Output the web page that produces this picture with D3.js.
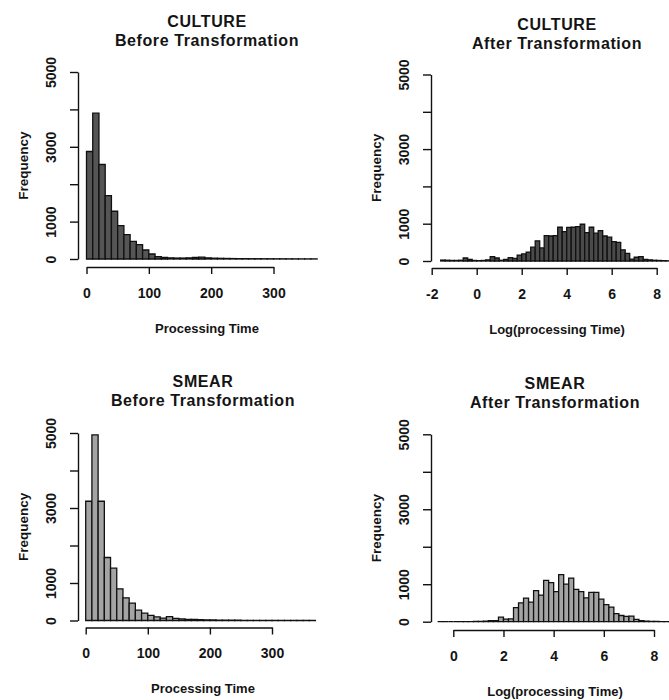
<!DOCTYPE html>
<html>
<head>
<meta charset="utf-8">
<script src="https://cdn.jsdelivr.net/npm/d3@7"></script>
<style>
  html, body { margin: 0; padding: 0; background: #ffffff; }
  svg { display: block; }
  text { font-family: "Liberation Sans", Arial, Helvetica, sans-serif; font-weight: bold; fill: #141414; }
</style>
</head>
<body>
<svg id="chart" width="669" height="700"></svg>
<script>
// Histogram counts (frequency per bin)
const cultureBeforeStart = 0;
const cultureBeforeWidth = 10;
const cultureBeforeCounts = [2875, 3900, 2527, 1696, 1277, 893, 652, 473, 384, 241, 134, 62, 40, 30, 25, 25, 30, 40, 50, 30, 22, 18, 15, 12, 10, 10, 8, 8, 6, 6, 5, 5, 4, 4, 3, 3, 3];

const cultureAfterStart = -1.6;
const cultureAfterWidth = 0.2;
const cultureAfterCounts = [25, 20, 15, 15, 20, 80, 40, 15, 10, 15, 30, 115, 80, 20, 45, 90, 70, 160, 190, 240, 370, 540, 350, 680, 670, 680, 905, 790, 900, 905, 920, 985, 760, 905, 745, 815, 670, 640, 520, 500, 300, 205, 50, 100, 115, 45, 30, 20, 15, 10, 5];

const smearBeforeStart = 0;
const smearBeforeWidth = 10;
const smearBeforeCounts = [3180, 4950, 3180, 1680, 1395, 845, 605, 465, 275, 195, 138, 98, 65, 105, 55, 42, 32, 28, 22, 18, 15, 12, 10, 8, 8, 6, 6, 5, 5, 4, 4, 3, 3, 3, 2, 2, 2];

const smearAfterStart = -0.6;
const smearAfterWidth = 0.2;
const smearAfterCounts = [2, 0, 0, 0, 2, 2, 3, 5, 8, 15, 25, 30, 120, 70, 75, 375, 500, 630, 520, 830, 710, 1100, 1040, 800, 1255, 1000, 1165, 865, 800, 635, 785, 785, 600, 455, 390, 215, 165, 140, 150, 60, 30, 15, 10, 5, 3, 2, 1];

// Axis ticks and the labels printed beside them
const yTicks = [0, 1000, 2000, 3000, 4000, 5000];
const yTickLabels = ["0", "1000", "3000", "5000"];
const xTicksBefore = [0, 100, 200, 300];
const xTicksCultureAfter = [-2, 0, 2, 4, 6, 8];
const xTicksSmearAfter = [0, 2, 4, 6, 8];

const titles = [["CULTURE", "Before Transformation"], ["CULTURE", "After Transformation"],
                ["SMEAR", "Before Transformation"], ["SMEAR", "After Transformation"]];
const xLabels = ["Processing Time", "Log(processing Time)", "Processing Time", "Log(processing Time)"];
const yLabel = "Frequency";

// Panel layout in pixels
const panels = [
  { start: cultureBeforeStart, width: cultureBeforeWidth, counts: cultureBeforeCounts, xTicks: xTicksBefore,
    title: titles[0], xLabel: xLabels[0], fill: "#555555",
    yAxisX: 78, y0: 259, y5000: 72, xA: [0, 86.5], xB: [300, 273.5], xAxisY: 267, titleX: 207, titleY: 21, clipRight: 318 },
  { start: cultureAfterStart, width: cultureAfterWidth, counts: cultureAfterCounts, xTicks: xTicksCultureAfter,
    title: titles[1], xLabel: xLabels[1], fill: "#4a4a4a",
    yAxisX: 431, y0: 261, y5000: 74.5, xA: [-2, 431.7], xB: [8, 656.7], xAxisY: 268, titleX: 557, titleY: 24, clipRight: 669 },
  { start: smearBeforeStart, width: smearBeforeWidth, counts: smearBeforeCounts, xTicks: xTicksBefore,
    title: titles[2], xLabel: xLabels[2], fill: "#a4a4a4",
    yAxisX: 78, y0: 620.5, y5000: 433, xA: [0, 85.7], xB: [300, 272], xAxisY: 627.5, titleX: 203, titleY: 381, clipRight: 317 },
  { start: smearAfterStart, width: smearAfterWidth, counts: smearAfterCounts, xTicks: xTicksSmearAfter,
    title: titles[3], xLabel: xLabels[3], fill: "#a4a4a4",
    yAxisX: 431, y0: 621.7, y5000: 434.3, xA: [0, 453.3], xB: [8, 654], xAxisY: 630, titleX: 555, titleY: 383, clipRight: 669 }
];

const svg = d3.select("#chart");
const defs = svg.append("defs");

panels.forEach((p, i) => {
  const x = d3.scaleLinear().domain([p.xA[0], p.xB[0]]).range([p.xA[1], p.xB[1]]);
  const y = d3.scaleLinear().domain([0, 5000]).range([p.y0, p.y5000]);
  const g = svg.append("g");

  // clip region for the bars
  defs.append("clipPath").attr("id", "clip" + i)
    .append("rect")
    .attr("x", p.yAxisX + 4).attr("y", p.y5000 - 20)
    .attr("width", p.clipRight - p.yAxisX - 4).attr("height", p.y0 - p.y5000 + 24);

  // bins built from start + width
  const bins = p.counts.map((c, k) => ({ x0: p.start + k * p.width, x1: p.start + (k + 1) * p.width, n: c }));

  g.append("g").attr("clip-path", `url(#clip${i})`)
    .selectAll("path").data(bins).join("path")
    .attr("d", b => {
      const xl = x(b.x0), xr = x(b.x1), yb = y(0), yt = y(b.n);
      return `M${xl},${yb}V${yt}H${xr}V${yb}Z`;
    })
    .attr("fill", p.fill)
    .attr("stroke", "#111")
    .attr("stroke-width", 1.3)
    .attr("stroke-linejoin", "miter");

  // y axis
  const yAxis = d3.axisLeft(y).tickValues(yTicks).tickSize(8).tickSizeOuter(0)
    .tickFormat(d => yTickLabels.includes(String(d)) ? String(d) : "");
  const ya = g.append("g").attr("transform", `translate(${p.yAxisX},0)`).call(yAxis);
  ya.attr("font-family", null).attr("font-size", null);
  ya.select(".domain").attr("stroke", "#111").attr("stroke-width", 1.4);
  ya.selectAll(".tick line").attr("stroke", "#111").attr("stroke-width", 1.4);
  ya.selectAll(".tick text")
    .attr("x", null).attr("dy", "0.36em")
    .attr("transform", "translate(-27,0) rotate(-90)")
    .attr("text-anchor", "middle")
    .style("font-size", "14px")
    .attr("fill", "#141414");

  // x axis (plain hyphen for negative values)
  const xAxis = d3.axisBottom(x).tickValues(p.xTicks).tickSize(7).tickSizeOuter(0).tickFormat(d => String(d));
  const xa = g.append("g").attr("transform", `translate(0,${p.xAxisY})`).call(xAxis);
  xa.attr("font-family", null).attr("font-size", null);
  xa.select(".domain").attr("stroke", "#111").attr("stroke-width", 1.4);
  xa.selectAll(".tick line").attr("stroke", "#111").attr("stroke-width", 1.4);
  xa.selectAll(".tick text")
    .attr("y", 21).attr("dy", "0.71em")
    .style("font-size", "14px")
    .attr("fill", "#141414");

  // titles, two lines
  [0, 1].forEach(line => {
    g.append("text").attr("x", p.titleX).attr("y", p.titleY + line * 19).attr("dy", "0.35em")
      .attr("text-anchor", "middle")
      .style("font-size", "16px").style("letter-spacing", "0.6px")
      .text(p.title[line]);
  });

  // axis titles
  g.append("text").attr("x", p.titleX).attr("y", p.xAxisY + 61).attr("dy", "0.35em")
    .attr("text-anchor", "middle").style("font-size", "13px").text(p.xLabel);
  g.append("text")
    .attr("transform", `translate(${p.yAxisX - 55},${(p.y0 + p.y5000) / 2}) rotate(-90)`)
    .attr("dy", "0.35em").attr("text-anchor", "middle").style("font-size", "13.5px").text(yLabel);
});
</script>
</body>
</html>
